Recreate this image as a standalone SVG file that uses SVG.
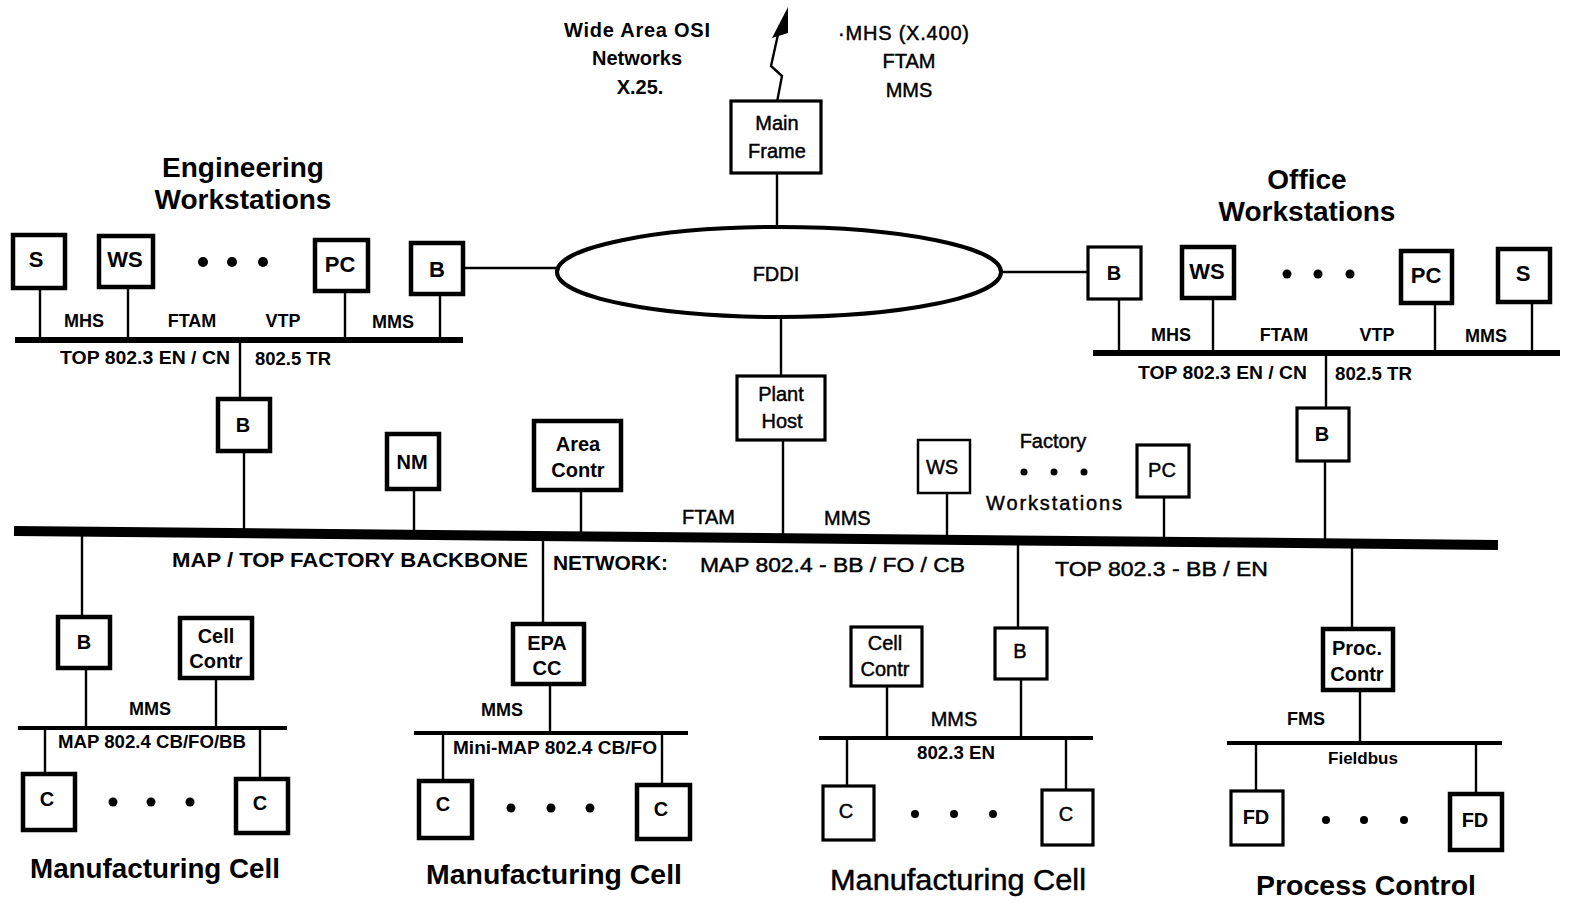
<svg xmlns="http://www.w3.org/2000/svg" width="1571" height="903" viewBox="0 0 1571 903">
<style>
.bx{fill:#fff;stroke:#000;stroke-width:4.5}
.bm{fill:#fff;stroke:#000;stroke-width:3.2}
.bt{fill:#fff;stroke:#000;stroke-width:2.5}
.ln{stroke:#000;stroke-width:2.4;fill:none}
.bus{stroke:#000;stroke-width:6;fill:none}
.sbus{stroke:#000;stroke-width:4;fill:none}
text{font-family:"Liberation Sans",Arial,sans-serif;fill:#000}
.b{font-weight:bold}
.c{text-anchor:middle}
.big{font-size:28px;font-weight:bold}
.lb{font-size:18px;font-weight:bold}
.n20{font-size:20px;stroke:#000;stroke-width:0.45}
.b20{font-size:20px;font-weight:bold}
.b22{font-size:22px;font-weight:bold}
.thick{stroke:#000;stroke-width:0.5}
</style>
<rect width="1571" height="903" fill="#fff"/>
<g id="connectors">
  <polyline class="ln" points="777,102 782,76 771,66 779,30"/>
  <polygon points="772,38 788,33 788,7" fill="#000"/>
  <line class="ln" x1="777" y1="173" x2="777" y2="228"/>
  <line class="ln" x1="463" y1="268" x2="557" y2="268"/>
  <line class="ln" x1="1001" y1="272" x2="1088" y2="272"/>
  <line class="ln" x1="781" y1="317" x2="781" y2="376"/>
  <line class="bus" x1="15" y1="340" x2="463" y2="340"/>
  <line class="ln" x1="40" y1="288" x2="40" y2="340"/>
  <line class="ln" x1="128" y1="287" x2="128" y2="340"/>
  <line class="ln" x1="345" y1="291" x2="345" y2="340"/>
  <line class="ln" x1="440" y1="294" x2="440" y2="340"/>
  <line class="ln" x1="240" y1="340" x2="240" y2="399"/>
  <line class="bus" x1="1093" y1="353" x2="1560" y2="353"/>
  <line class="ln" x1="1119" y1="299" x2="1119" y2="353"/>
  <line class="ln" x1="1213" y1="298" x2="1213" y2="353"/>
  <line class="ln" x1="1435" y1="303" x2="1435" y2="353"/>
  <line class="ln" x1="1532" y1="302" x2="1532" y2="353"/>
  <line class="ln" x1="1326" y1="353" x2="1326" y2="408"/>
  <line x1="14" y1="531" x2="1498" y2="545" stroke="#000" stroke-width="10"/>
  <line class="ln" x1="244" y1="451" x2="244" y2="533"/>
  <line class="ln" x1="414" y1="489" x2="414" y2="535"/>
  <line class="ln" x1="581" y1="490" x2="581" y2="536"/>
  <line class="ln" x1="783" y1="440" x2="783" y2="538"/>
  <line class="ln" x1="947" y1="493" x2="947" y2="540"/>
  <line class="ln" x1="1164" y1="497" x2="1164" y2="542"/>
  <line class="ln" x1="1325" y1="461" x2="1325" y2="544"/>
  <line class="ln" x1="82" y1="531" x2="82" y2="617"/>
  <line class="ln" x1="543" y1="536" x2="543" y2="624"/>
  <line class="ln" x1="1018" y1="540" x2="1018" y2="628"/>
  <line class="ln" x1="1352" y1="544" x2="1352" y2="628"/>
  <line class="sbus" x1="18" y1="728" x2="287" y2="728"/>
  <line class="ln" x1="86" y1="668" x2="86" y2="728"/>
  <line class="ln" x1="216" y1="678" x2="216" y2="728"/>
  <line class="ln" x1="45" y1="728" x2="45" y2="773"/>
  <line class="ln" x1="260" y1="728" x2="260" y2="778"/>
  <line class="sbus" x1="414" y1="733" x2="688" y2="733"/>
  <line class="ln" x1="550" y1="684" x2="550" y2="733"/>
  <line class="ln" x1="443" y1="733" x2="443" y2="780"/>
  <line class="ln" x1="662" y1="733" x2="662" y2="784"/>
  <line class="sbus" x1="819" y1="738" x2="1093" y2="738"/>
  <line class="ln" x1="887" y1="686" x2="887" y2="738"/>
  <line class="ln" x1="1021" y1="679" x2="1021" y2="738"/>
  <line class="ln" x1="847" y1="738" x2="847" y2="786"/>
  <line class="ln" x1="1066" y1="738" x2="1066" y2="790"/>
  <line class="sbus" x1="1227" y1="743" x2="1502" y2="743"/>
  <line class="ln" x1="1360" y1="690" x2="1360" y2="743"/>
  <line class="ln" x1="1256" y1="743" x2="1256" y2="790"/>
  <line class="ln" x1="1476" y1="743" x2="1476" y2="793"/>
</g>

<g id="labels">
  <text class="b20 c" x="637" y="37" textLength="146">Wide Area OSI</text>
  <text class="b20 c" x="637" y="65">Networks</text>
  <text class="b20 c" x="640" y="94">X.25.</text>
  <text class="n20" x="838" y="40" textLength="131">·MHS (X.400)</text>
  <text class="n20 c" x="909" y="68">FTAM</text>
  <text class="n20 c" x="909" y="97">MMS</text>

  <text class="big c" x="243" y="177">Engineering</text>
  <text class="big c" x="243" y="209">Workstations</text>
  <text class="lb c" x="84" y="327">MHS</text>
  <text class="lb c" x="192" y="327">FTAM</text>
  <text class="lb c" x="283" y="327">VTP</text>
  <text class="lb c" x="393" y="328">MMS</text>
  <text class="lb" x="60" y="364" textLength="170" lengthAdjust="spacingAndGlyphs">TOP 802.3  EN / CN</text>
  <text class="lb" x="255" y="365" textLength="76" lengthAdjust="spacingAndGlyphs">802.5 TR</text>

  <text class="big c" x="1307" y="189">Office</text>
  <text class="big c" x="1307" y="221">Workstations</text>
  <text class="lb c" x="1171" y="341">MHS</text>
  <text class="lb c" x="1284" y="341">FTAM</text>
  <text class="lb c" x="1377" y="341">VTP</text>
  <text class="lb c" x="1486" y="342">MMS</text>
  <text class="lb" x="1138" y="379" textLength="169" lengthAdjust="spacingAndGlyphs">TOP 802.3 EN / CN</text>
  <text class="lb" x="1335" y="380" textLength="77" lengthAdjust="spacingAndGlyphs">802.5 TR</text>

  <text class="n20 c" x="1053" y="448">Factory</text>
  <circle cx="1024" cy="472" r="3.5"/>
  <circle cx="1054" cy="472" r="3.5"/>
  <circle cx="1084" cy="472" r="3.5"/>
  <text class="n20 c" x="1054" y="510" textLength="136">Workstations</text>
  <text class="n20" x="682" y="524">FTAM</text>
  <text class="n20" x="824" y="525">MMS</text>

  <text class="b20" x="172" y="567" textLength="356" lengthAdjust="spacingAndGlyphs">MAP / TOP  FACTORY  BACKBONE</text>
  <text class="b20" x="553" y="570" textLength="115" lengthAdjust="spacingAndGlyphs">NETWORK:</text>
  <text class="n20" x="700" y="572" textLength="265" lengthAdjust="spacingAndGlyphs">MAP 802.4  -  BB / FO / CB</text>
  <text class="n20" x="1055" y="576" textLength="213" lengthAdjust="spacingAndGlyphs">TOP 802.3  -  BB / EN</text>

  <text class="lb c" x="150" y="715">MMS</text>
  <text class="lb" x="58" y="748" textLength="188" lengthAdjust="spacingAndGlyphs">MAP 802.4 CB/FO/BB</text>
  <text class="big c" x="155" y="878" textLength="250" lengthAdjust="spacingAndGlyphs">Manufacturing Cell</text>

  <text class="lb c" x="502" y="716">MMS</text>
  <text class="lb" x="453" y="754" textLength="204" lengthAdjust="spacingAndGlyphs">Mini-MAP 802.4 CB/FO</text>
  <text class="big c" x="554" y="884" textLength="256" lengthAdjust="spacingAndGlyphs">Manufacturing Cell</text>

  <text class="n20 c" x="954" y="726">MMS</text>
  <text class="c" x="956" y="759" font-size="18" font-weight="bold" textLength="78" lengthAdjust="spacingAndGlyphs">802.3 EN</text>
  <text class="c thick" x="958" y="890" font-size="30" textLength="256" lengthAdjust="spacingAndGlyphs">Manufacturing Cell</text>

  <text class="lb c" x="1306" y="725">FMS</text>
  <text class="c" x="1363" y="764" font-size="17" font-weight="bold">Fieldbus</text>
  <text class="big c" x="1366" y="895" textLength="220" lengthAdjust="spacingAndGlyphs">Process Control</text>

  <circle cx="203" cy="262" r="5"/><circle cx="232" cy="262" r="5"/><circle cx="263" cy="262" r="5"/>
  <circle cx="1287" cy="274" r="4.5"/><circle cx="1318" cy="274" r="4.5"/><circle cx="1350" cy="274" r="4.5"/>
  <circle cx="113" cy="802" r="4.5"/><circle cx="151" cy="802" r="4.5"/><circle cx="190" cy="802" r="4.5"/>
  <circle cx="511" cy="808" r="4.5"/><circle cx="551" cy="808" r="4.5"/><circle cx="590" cy="808" r="4.5"/>
  <circle cx="915" cy="814" r="4"/><circle cx="954" cy="814" r="4"/><circle cx="993" cy="814" r="4"/>
  <circle cx="1326" cy="820" r="4"/><circle cx="1364" cy="820" r="4"/><circle cx="1404" cy="820" r="4"/>
</g>

<g id="fddi">
  <ellipse cx="779" cy="272" rx="222" ry="45" fill="#fff" stroke="#000" stroke-width="4"/>
  <text class="n20 c" x="776" y="281">FDDI</text>
</g>
<g id="mainframe">
  <rect class="bm" x="731" y="101" width="90" height="72"/>
  <text class="n20 c" x="777" y="130">Main</text>
  <text class="n20 c" x="777" y="158">Frame</text>
</g>

<g id="eng-s"><rect class="bx" x="13" y="235" width="52" height="53"/><text class="b22 c" x="36" y="267">S</text></g>
<g id="eng-ws"><rect class="bx" x="99" y="236" width="54" height="51"/><text class="b22 c" x="125" y="267">WS</text></g>
<g id="eng-pc"><rect class="bx" x="315" y="240" width="53" height="51"/><text class="b22 c" x="340" y="272">PC</text></g>
<g id="eng-b"><rect class="bx" x="411" y="243" width="52" height="51"/><text class="b22 c" x="437" y="277">B</text></g>
<g id="eng-b2"><rect class="bx" x="218" y="399" width="52" height="52"/><text class="b20 c" x="243" y="432">B</text></g>

<g id="off-b"><rect class="bm" x="1088" y="247" width="53" height="52"/><text class="b20 c" x="1114" y="280">B</text></g>
<g id="off-ws"><rect class="bx" x="1182" y="247" width="52" height="51"/><text class="b22 c" x="1207" y="279">WS</text></g>
<g id="off-pc"><rect class="bx" x="1401" y="251" width="51" height="52"/><text class="b22 c" x="1426" y="283">PC</text></g>
<g id="off-s"><rect class="bx" x="1498" y="249" width="52" height="53"/><text class="b22 c" x="1523" y="281">S</text></g>
<g id="off-b2"><rect class="bm" x="1297" y="408" width="52" height="53"/><text class="b20 c" x="1322" y="441">B</text></g>

<g id="nm"><rect class="bx" x="387" y="434" width="52" height="55"/><text class="b20 c" x="412" y="469">NM</text></g>
<g id="area"><rect class="bx" x="534" y="421" width="87" height="69"/><text class="b20 c" x="578" y="451">Area</text><text class="b20 c" x="578" y="477">Contr</text></g>
<g id="planthost"><rect class="bm" x="737" y="376" width="88" height="64"/><text class="n20 c" x="781" y="401">Plant</text><text class="n20 c" x="782" y="428">Host</text></g>
<g id="f-ws"><rect class="bt" x="918" y="440" width="52" height="53"/><text class="n20 c" x="942" y="474">WS</text></g>
<g id="f-pc"><rect class="bm" x="1137" y="445" width="52" height="52"/><text class="n20 c" x="1162" y="477">PC</text></g>

<g id="c1-b"><rect class="bx" x="58" y="617" width="52" height="51"/><text class="b20 c" x="84" y="649">B</text></g>
<g id="c1-cc"><rect class="bx" x="180" y="618" width="72" height="60"/><text class="b20 c" x="216" y="643">Cell</text><text class="b20 c" x="216" y="668">Contr</text></g>
<g id="c1-c1"><rect class="bx" x="23" y="774" width="52" height="56"/><text class="b20 c" x="47" y="806">C</text></g>
<g id="c1-c2"><rect class="bx" x="236" y="779" width="52" height="54"/><text class="b20 c" x="260" y="810">C</text></g>

<g id="c2-epa"><rect class="bx" x="513" y="624" width="71" height="60"/><text class="b20 c" x="547" y="650">EPA</text><text class="b20 c" x="547" y="675">CC</text></g>
<g id="c2-c1"><rect class="bx" x="419" y="781" width="53" height="57"/><text class="b20 c" x="443" y="811">C</text></g>
<g id="c2-c2"><rect class="bx" x="637" y="785" width="53" height="54"/><text class="b20 c" x="661" y="816">C</text></g>

<g id="c3-cc"><rect class="bm" x="851" y="627" width="71" height="59"/><text class="n20 c" x="885" y="650">Cell</text><text class="n20 c" x="885" y="676">Contr</text></g>
<g id="c3-b"><rect class="bm" x="995" y="628" width="52" height="51"/><text class="n20 c" x="1020" y="658">B</text></g>
<g id="c3-c1"><rect class="bm" x="823" y="786" width="51" height="54"/><text class="n20 c" x="846" y="818">C</text></g>
<g id="c3-c2"><rect class="bm" x="1042" y="790" width="51" height="55"/><text class="n20 c" x="1066" y="821">C</text></g>

<g id="pc-proc"><rect class="bx" x="1323" y="629" width="70" height="61"/><text class="b20 c" x="1357" y="655">Proc.</text><text class="b20 c" x="1357" y="681">Contr</text></g>
<g id="pc-fd1"><rect class="bm" x="1231" y="791" width="52" height="54"/><text class="b20 c" x="1256" y="824">FD</text></g>
<g id="pc-fd2"><rect class="bx" x="1450" y="794" width="52" height="56"/><text class="b20 c" x="1475" y="827">FD</text></g>
</svg>
